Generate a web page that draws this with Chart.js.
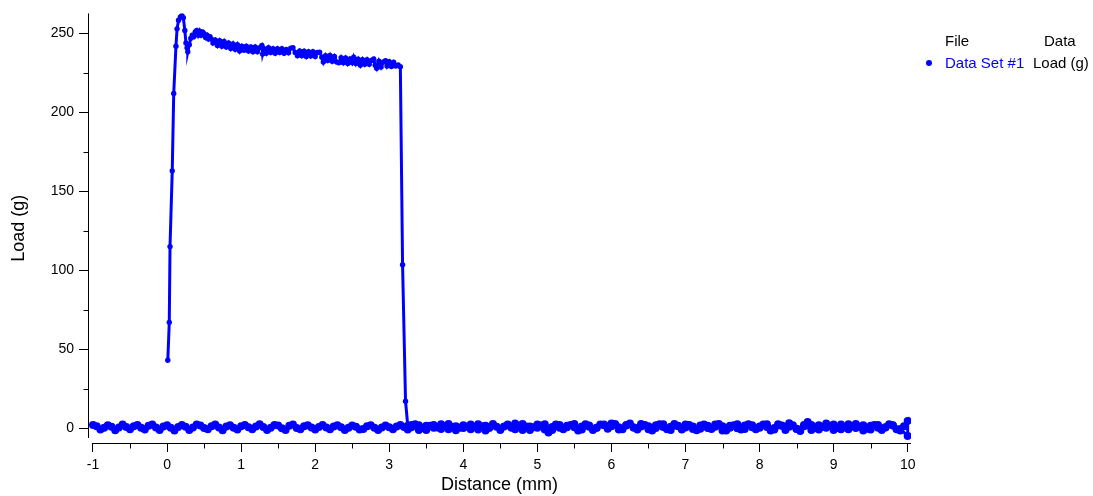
<!DOCTYPE html>
<html>
<head>
<meta charset="utf-8">
<title>Load vs Distance</title>
<script src="https://cdn.jsdelivr.net/npm/chart.js@4.4.0/dist/chart.umd.min.js"></script>
<style>
  body { margin: 0; background: #fff; }
  #wrap { position: relative; width: 1093px; height: 496px; }
  #myChart { display: block; }
  .lg { position: absolute; font: 15px "Liberation Sans", Arial, sans-serif; line-height: 18px; white-space: nowrap; color: #000; }
  .dot { position: absolute; width: 6px; height: 6px; border-radius: 3px; background: #0000ff; }
</style>
</head>
<body>
<div id="wrap">
  <canvas id="myChart" width="1093" height="496"></canvas>
  <div class="lg" style="left:945px;top:32px">File</div>
  <div class="lg" style="left:1044px;top:32px">Data</div>
  <div class="dot" style="left:926px;top:60px"></div>
  <div class="lg" style="left:945px;top:54px;color:#0000ff">Data Set #1</div>
  <div class="lg" style="left:1033px;top:54px">Load (g)</div>
</div>
<script>
// axis ticks
const xTicks = [-1, 0, 1, 2, 3, 4, 5, 6, 7, 8, 9, 10];
const xMinor = [-0.5, 0.5, 1.5, 2.5, 3.5, 4.5, 5.5, 6.5, 7.5, 8.5, 9.5];
const yTicks = [0, 50, 100, 150, 200, 250];
const yMinor = [25, 75, 125, 175, 225];

// loading: contact, peak, plateau and drop
const loadDist = [
  0.01, 0.03, 0.04, 0.07, 0.09, 0.12, 0.135, 0.155, 0.18, 0.20,
  0.22, 0.24, 0.255, 0.27, 0.28, 0.30, 0.32, 0.34, 0.36, 0.38,
  0.40, 0.42, 0.44, 0.46, 0.48, 0.50, 0.52, 0.54, 0.56, 0.58,
  0.60, 0.62, 0.65, 0.68, 0.71, 0.74, 0.77, 0.80, 0.83, 0.86,
  0.89, 0.92, 0.95, 0.98, 1.01, 1.04, 1.07, 1.10, 1.13, 1.16,
  1.19, 1.22, 1.25, 1.28, 1.29, 1.31, 1.34, 1.37, 1.40, 1.43,
  1.46, 1.49, 1.52, 1.55, 1.58, 1.61, 1.64, 1.67, 1.70, 1.73,
  1.76, 1.79, 1.82, 1.85, 1.88, 1.91, 1.94, 1.97, 2.00, 2.03,
  2.06, 2.09, 2.11, 2.14, 2.17, 2.20, 2.23, 2.26, 2.29, 2.32,
  2.35, 2.38, 2.41, 2.44, 2.47, 2.50, 2.52, 2.55, 2.58, 2.61,
  2.64, 2.67, 2.70, 2.73, 2.76, 2.79, 2.81, 2.83, 2.86, 2.89,
  2.92, 2.95, 2.97, 3.00, 3.03, 3.06, 3.09, 3.12, 3.15, 3.18,
  3.22, 3.25
];
const loadVals = [
  43, 67, 115, 163, 212, 242, 253, 258.5, 260.5, 261.5,
  260, 252, 244, 241, 238.5, 243, 247, 249, 248, 251,
  252, 249, 251.5, 249, 251, 250, 247.5, 249, 246.5, 248,
  246.5, 244, 246, 242.5, 245.5, 242, 245, 241.5, 244, 240.5,
  243.5, 240, 243, 239, 242, 239.5, 242, 239, 241.5, 238.5,
  241.5, 238.5, 241, 242.5, 237, 240.5, 237.5, 241, 238, 240.5,
  237.5, 240.5, 238, 240.5, 237.5, 240, 237.8, 240.8, 241, 238,
  236, 239, 236, 238.8, 235.5, 238.5, 235.8, 238.5, 235.5, 238,
  238.2, 235, 232, 236, 233, 236.2, 232.5, 235.5, 232, 231.5,
  234.8, 231.5, 234.5, 231, 234, 231.5, 235, 231, 233.8, 230,
  233.5, 230.5, 233.5, 230.5, 233, 234, 230, 228, 232.5, 228.8,
  232, 232.8, 229.5, 232.2, 229.2, 231.8, 229.5, 230.2, 229, 103.5,
  17, 1.5
];

// after the drop, out to 10 mm
const tailDist = [
  3.3, 3.4, 3.5, 3.6, 3.7, 3.8, 3.9,
  4.0, 4.1, 4.2, 4.3, 4.4, 4.5, 4.6, 4.7, 4.8, 4.9,
  5.0, 5.1, 5.2, 5.3, 5.4, 5.5, 5.6, 5.7, 5.8, 5.9,
  6.0, 6.1, 6.2, 6.3, 6.4, 6.5, 6.6, 6.7, 6.8, 6.9,
  7.0, 7.1, 7.2, 7.3, 7.4, 7.5, 7.6, 7.7, 7.8, 7.9,
  8.0, 8.1, 8.2, 8.3, 8.4, 8.5, 8.6, 8.7, 8.8, 8.9,
  9.0, 9.1, 9.2, 9.3, 9.4, 9.5, 9.6, 9.7, 9.8, 9.9,
  10.0
];
const tailVals = [
  2.0, -1.2, 1.5, 0.2, 2.4, -0.8, 1.2,
  0.0, 2.2, -1.0, 1.5, 2.6, -0.5, 1.8, 2.8, -1.2, 1.0,
  0.2, 2.4, -1.2, 2.0, 0.5, 2.6, -1.0, 1.6, 0.2, 2.2,
  2.8, -1.0, 2.0, 0.4, 2.6, -0.8, 1.8, 2.4, -1.2, 1.2,
  2.2, -0.6, 1.6, 0.0, 2.2, -1.6, 1.4, 2.4, -0.6, 1.8,
  0.2, 2.4, -1.0, 1.6, 3.0, -0.6, 2.0, -1.2, 1.8, 0.2,
  2.2, -0.8, 2.4, 0.0, 1.8, -1.0, 2.0, 0.4, 1.6, -0.6,
  -5.0
];

// return stroke, 10 mm back to -1 mm
const returnDist = [
  10.00,
  9.95, 9.90, 9.85, 9.80, 9.75, 9.70, 9.65, 9.60, 9.55, 9.50, 9.45, 9.40, 9.35, 9.30, 9.25, 9.20, 9.15, 9.10, 9.05, 9.00,
  8.95, 8.90, 8.85, 8.80, 8.75, 8.70, 8.65, 8.60, 8.55, 8.50, 8.45, 8.40, 8.35, 8.30, 8.25, 8.20, 8.15, 8.10, 8.05, 8.00,
  7.95, 7.90, 7.85, 7.80, 7.75, 7.70, 7.65, 7.60, 7.55, 7.50, 7.45, 7.40, 7.35, 7.30, 7.25, 7.20, 7.15, 7.10, 7.05, 7.00,
  6.95, 6.90, 6.85, 6.80, 6.75, 6.70, 6.65, 6.60, 6.55, 6.50, 6.45, 6.40, 6.35, 6.30, 6.25, 6.20, 6.15, 6.10, 6.05, 6.00,
  5.95, 5.90, 5.85, 5.80, 5.75, 5.70, 5.65, 5.60, 5.55, 5.50, 5.45, 5.40, 5.35, 5.30, 5.25, 5.20, 5.15, 5.10, 5.05, 5.00,
  4.95, 4.90, 4.85, 4.80, 4.75, 4.70, 4.65, 4.60, 4.55, 4.50, 4.45, 4.40, 4.35, 4.30, 4.25, 4.20, 4.15, 4.10, 4.05, 4.00,
  3.95, 3.90, 3.85, 3.80, 3.75, 3.70, 3.65, 3.60, 3.55, 3.50, 3.45, 3.40, 3.35, 3.30, 3.25, 3.20, 3.15, 3.10, 3.05, 3.00,
  2.95, 2.90, 2.85, 2.80, 2.75, 2.70, 2.65, 2.60, 2.55, 2.50, 2.45, 2.40, 2.35, 2.30, 2.25, 2.20, 2.15, 2.10, 2.05, 2.00,
  1.95, 1.90, 1.85, 1.80, 1.75, 1.70, 1.65, 1.60, 1.55, 1.50, 1.45, 1.40, 1.35, 1.30, 1.25, 1.20, 1.15, 1.10, 1.05, 1.00,
  0.95, 0.90, 0.85, 0.80, 0.75, 0.70, 0.65, 0.60, 0.55, 0.50, 0.45, 0.40, 0.35, 0.30, 0.25, 0.20, 0.15, 0.10, 0.05, 0.00,
  -0.05, -0.10, -0.15, -0.20, -0.25, -0.30, -0.35, -0.40, -0.45, -0.50, -0.55, -0.60, -0.65, -0.70, -0.75, -0.80, -0.85, -0.90, -0.95, -1.00
];
const returnVals = [
  4.5,
  1.2, -1.5, -0.8, 1.8, 2.4, 0.5, -1.2, 0.2, 2.0, 1.5, -0.5, -1.6, 0.8, 2.6, 1.0, -0.8, 0.5, 2.2, 0.0, -1.2,
  1.5, 2.8, 0.6, -1.0, 0.2, 2.0, 3.8, 1.2, -1.8, -0.5, 1.8, 0.8, -1.2, 1.4, 2.4, 0.0, -1.5, 0.6, 2.2, 1.0,
  -0.8, 0.5, 2.4, 1.6, -1.0, -0.2, 1.8, 0.2, -1.6, 1.2, 2.5, 0.8, -0.6, 1.5, 2.2, -0.5, -1.4, 1.0, 2.0, 0.4,
  -1.0, 1.4, 2.6, 0.8, -0.8, 0.6, 2.4, 0.0, -1.5, 1.2, 2.0, 1.0, -1.0, 0.4, 2.8, 1.6, -0.8, 0.5, 2.6, 1.2,
  -0.5, 1.8, 2.2, 0.2, -1.2, 0.8, 2.4, 1.0, -1.5, 0.5, 2.0, 1.4, -0.8, 0.2, 2.2, 0.6, -2.8, -1.0, 1.6, 2.2,
  0.5, -1.2, 1.0, 2.6, 1.4, -0.8, 0.2, 2.2, 1.0, -1.2, 0.8, 2.0, 0.0, -1.5, 1.2, 2.4, 0.6, -0.8, 1.0, 1.8,
  0.2, -1.4, 0.8, 2.5, 1.2, -0.6, 0.4, 2.0, 1.4, -1.2, 0.0, 1.8, 2.4, 0.5, -1.0, 0.6, 2.0, 1.0, -0.8, 0.5,
  1.6, 0.4, -1.2, 0.2, 1.8, 1.2, -0.6, -1.0, 0.8, 1.6, 0.2, -1.2, 0.5, 1.8, 1.0, -0.8, 0.4, 2.0, 0.6, -1.0,
  0.4, 1.8, 1.2, -0.8, 0.0, 2.2, 1.4, -1.2, -0.2, 1.6, 2.0, 0.2, -1.2, 0.6, 2.4, 1.0, -0.8, 0.5, 2.0, 1.2,
  -1.0, 0.2, 1.8, 1.0, -1.4, 0.4, 2.2, 1.2, -0.8, 0.0, 1.6, 2.2, 0.4, -1.2, 0.8, 2.0, 0.6, -1.5, 0.2, 1.8,
  1.0, -1.2, 0.4, 2.2, 1.4, -1.0, 0.2, 2.0, 1.2, -0.8, 0.6, 2.2, 0.4, -1.4, 0.8, 1.8, 0.2, -1.0, 1.2, 2.0
];

const points = [];
[[loadDist, loadVals], [tailDist, tailVals], [returnDist, returnVals]].forEach(function (p) {
  p[0].forEach(function (d, i) { points.push({ x: d, y: p[1][i] }); });
});

const FONT = '"Liberation Sans", Arial, sans-serif';

// axis lines sit apart from each other, minor ticks are shorter
const axisLines = {
  id: 'axisLines',
  afterDraw(chart) {
    const ctx = chart.ctx, area = chart.chartArea;
    const x = chart.scales.x, y = chart.scales.y;
    const ax = area.left + 0.5, ay = area.bottom + 0.5;
    ctx.save();
    ctx.strokeStyle = '#000';
    ctx.lineWidth = 1;
    ctx.beginPath();
    ctx.moveTo(ax, area.top);
    ctx.lineTo(ax, y.getPixelForValue(-6.3));
    ctx.moveTo(x.getPixelForValue(-1.015), ay);
    ctx.lineTo(area.right, ay);
    xMinor.forEach(function (v) {
      const px = Math.round(x.getPixelForValue(v)) + 0.5;
      ctx.moveTo(px, ay); ctx.lineTo(px, ay + 5);
    });
    yMinor.forEach(function (v) {
      const py = Math.round(y.getPixelForValue(v)) + 0.5;
      ctx.moveTo(ax, py); ctx.lineTo(ax - 5, py);
    });
    ctx.stroke();
    ctx.restore();
  }
};

const config = {
  type: 'line',
  data: {
    datasets: [{
      label: 'Data Set #1',
      data: points,
      borderColor: '#0000ff',
      backgroundColor: '#0000ff',
      borderWidth: 3,
      // the noisy baseline reads as a solid band of dots
      pointRadius: function (c) { return c.raw && c.raw.y < 10 ? 4 : 2.7; },
      pointBorderWidth: 0,
      pointBackgroundColor: '#0000ff',
      tension: 0,
      fill: false
    }]
  },
  options: {
    responsive: false,
    animation: false,
    events: [],
    layout: { padding: { top: 12, right: 182, left: 0, bottom: 0 } },
    plugins: { legend: { display: false }, tooltip: { enabled: false } },
    scales: {
      x: {
        type: 'linear',
        min: -1.0675,
        max: 10.045,
        afterBuildTicks: function (s) { s.ticks = xTicks.map(function (v) { return { value: v }; }); },
        afterFit: function (s) { s.height = 53; },
        border: { display: false },
        grid: { drawOnChartArea: false, drawTicks: true, tickLength: 9, tickColor: '#000', tickWidth: 1 },
        ticks: { color: '#000', padding: 5, maxRotation: 0, autoSkip: false, font: { family: FONT, size: 14 } },
        title: { display: true, text: 'Distance (mm)', color: '#000', font: { family: FONT, size: 18 }, padding: { top: 0, bottom: 0 } }
      },
      y: {
        type: 'linear',
        min: -9.48,
        max: 262.8,
        afterBuildTicks: function (s) { s.ticks = yTicks.map(function (v) { return { value: v }; }); },
        afterFit: function (s) { s.width = 88; },
        border: { display: false },
        grid: { drawOnChartArea: false, drawTicks: true, tickLength: 9, tickColor: '#000', tickWidth: 1 },
        ticks: { color: '#000', padding: 5, autoSkip: false, font: { family: FONT, size: 14 } },
        title: { display: true, text: 'Load (g)', color: '#000', font: { family: FONT, size: 18 }, padding: { top: 8, bottom: 0 } }
      }
    }
  },
  plugins: [axisLines]
};

const myChart = new Chart(document.getElementById('myChart'), config);
</script>
</body>
</html>
